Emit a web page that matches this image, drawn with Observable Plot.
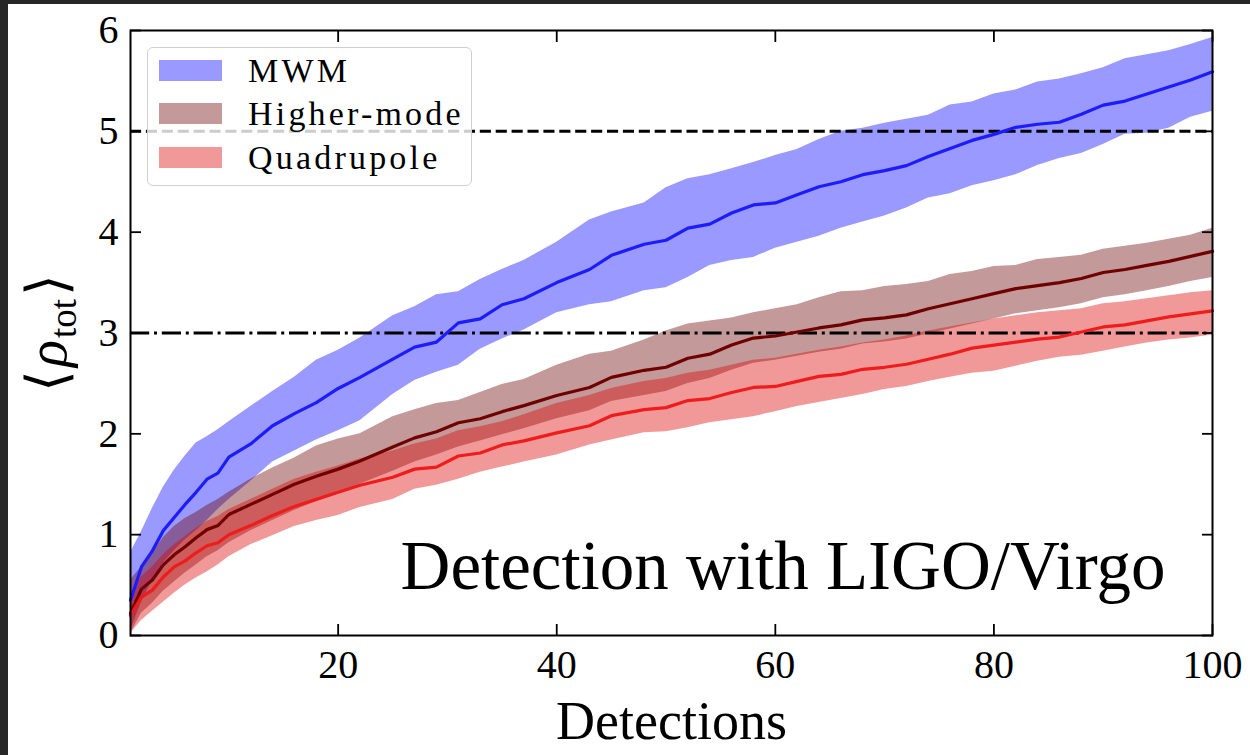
<!DOCTYPE html>
<html>
<head>
<meta charset="utf-8">
<script src="https://cdn.jsdelivr.net/npm/d3@7"></script>
<script src="https://cdn.jsdelivr.net/npm/@observablehq/plot@0.6"></script>
<style>
  html, body { margin: 0; padding: 0; background: #272727; }
  #page { position: absolute; left: 8px; top: 4px; width: 1242px; height: 751px; background: #fff; overflow: hidden; }
  #chart { position: absolute; left: 0; top: 0; }
  #legend { position: absolute; left: 139px; top: 43px; width: 323px; height: 137px;
            background: rgba(255,255,255,0.8); border: 1.5px solid #cfcfcf; border-radius: 6px; }
  .sw { position: absolute; left: 11px; width: 63px; height: 21px; }
  .lab { position: absolute; left: 100px; font-family: "Liberation Serif", serif; font-size: 34px;
         letter-spacing: 3.2px; line-height: 34px; color: #000; white-space: nowrap; }
</style>
</head>
<body>
<div id="page">
  <div id="chart"></div>
  <div id="legend"></div>
</div>
<script>
// Number of detections at which the mean SNR and its band were evaluated
const detections = [1,2,3,4,5,6,7,8,9,10,12,14,16,18,20,22,25,27,29,31,33,35,37,40,43,45,48,50,
  52,54,56,58,60,62,64,66,68,70,72,74,76,78,80,82,84,86,88,90,92,94,96,98,100];

// Memory (MWM)
const mwmMean = [0.35,0.68,0.84,1.04,1.17,1.30,1.42,1.55,1.61,1.77,1.90,2.08,2.20,2.31,2.45,2.56,
  2.74,2.86,2.91,3.10,3.14,3.28,3.34,3.50,3.63,3.77,3.88,3.92,
  4.04,4.08,4.19,4.27,4.29,4.37,4.45,4.50,4.57,4.61,4.66,4.75,4.83,4.91,4.97,5.04,5.07,5.09,5.17,5.26,5.30,5.37,5.44,5.51,5.59];
const mwmHigh = [0.82,1.03,1.26,1.47,1.64,1.78,1.91,1.97,2.04,2.12,2.27,2.42,2.56,2.73,2.83,2.95,
  3.17,3.26,3.38,3.41,3.53,3.63,3.72,3.90,4.12,4.20,4.29,4.44,
  4.53,4.57,4.63,4.69,4.76,4.82,4.92,5.00,5.03,5.08,5.12,5.16,5.26,5.29,5.37,5.41,5.49,5.52,5.57,5.63,5.72,5.76,5.80,5.86,5.93];
const mwmLow = [0.05,0.33,0.55,0.72,0.84,0.95,1.04,1.14,1.25,1.35,1.53,1.72,1.83,1.94,2.03,2.13,
  2.39,2.53,2.61,2.68,2.84,2.94,3.03,3.20,3.28,3.31,3.42,3.45,
  3.55,3.67,3.72,3.75,3.84,3.90,3.96,4.04,4.10,4.16,4.24,4.34,4.38,4.46,4.51,4.57,4.66,4.73,4.78,4.87,4.97,4.98,5.03,5.14,5.20];

// Higher-mode
const hmMean = [0.22,0.46,0.55,0.70,0.80,0.88,0.97,1.05,1.09,1.20,1.30,1.40,1.50,1.58,1.65,1.73,
  1.87,1.96,2.02,2.11,2.15,2.22,2.28,2.38,2.46,2.56,2.63,2.66,
  2.75,2.79,2.88,2.95,2.97,3.01,3.05,3.08,3.13,3.15,3.18,3.24,3.29,3.34,3.39,3.44,3.47,3.50,3.54,3.60,3.63,3.67,3.71,3.76,3.81];
const hmHigh = [0.55,0.68,0.82,0.97,1.08,1.16,1.22,1.29,1.35,1.42,1.55,1.66,1.76,1.88,1.95,2.00,
  2.17,2.24,2.30,2.33,2.41,2.49,2.54,2.68,2.79,2.82,2.93,3.02,
  3.09,3.12,3.15,3.20,3.24,3.28,3.35,3.41,3.42,3.46,3.48,3.51,3.58,3.61,3.66,3.67,3.73,3.75,3.77,3.83,3.86,3.89,3.93,3.97,4.04];
const hmLow = [0.02,0.22,0.32,0.44,0.53,0.62,0.70,0.78,0.84,0.92,1.04,1.14,1.24,1.33,1.41,1.50,
  1.63,1.72,1.79,1.87,1.93,1.99,2.05,2.15,2.23,2.32,2.38,2.42,
  2.50,2.55,2.63,2.70,2.73,2.77,2.81,2.84,2.89,2.91,2.94,2.99,3.04,3.09,3.14,3.19,3.22,3.25,3.29,3.35,3.38,3.42,3.46,3.51,3.55];

// Quadrupole
const quadMean = [0.20,0.38,0.45,0.58,0.68,0.74,0.82,0.89,0.92,1.00,1.09,1.19,1.28,1.35,1.42,1.49,
  1.57,1.65,1.67,1.78,1.81,1.89,1.93,2.01,2.08,2.18,2.24,2.26,
  2.33,2.35,2.41,2.46,2.47,2.52,2.57,2.59,2.64,2.66,2.69,2.74,2.79,2.85,2.88,2.91,2.94,2.96,3.01,3.06,3.08,3.12,3.16,3.19,3.22];
const quadHigh = [0.42,0.58,0.68,0.80,0.90,0.98,1.06,1.13,1.18,1.25,1.35,1.45,1.55,1.62,1.68,1.75,
  1.83,1.90,1.95,2.03,2.07,2.12,2.19,2.30,2.38,2.45,2.52,2.55,
  2.60,2.63,2.68,2.73,2.75,2.79,2.83,2.86,2.90,2.93,2.97,3.02,3.06,3.10,3.14,3.17,3.20,3.22,3.24,3.29,3.31,3.34,3.37,3.40,3.42];
const quadLow = [0.02,0.15,0.24,0.33,0.42,0.50,0.57,0.63,0.70,0.78,0.90,0.99,1.08,1.14,1.19,1.27,
  1.35,1.45,1.49,1.55,1.62,1.67,1.72,1.79,1.89,1.94,2.01,2.02,
  2.06,2.11,2.14,2.17,2.22,2.27,2.31,2.35,2.39,2.44,2.47,2.52,2.56,2.60,2.62,2.67,2.72,2.76,2.78,2.82,2.86,2.90,2.93,2.95,2.98];

const seriesNames = ["MWM", "Higher-mode", "Quadrupole"];
const bandColors = ["#0000ff", "#690000", "#dc0000"];
const lineColors = ["#1c1cff", "#700000", "#f01c1c"];
const xTicks = [20, 40, 60, 80, 100];
const yTicks = [0, 1, 2, 3, 4, 5, 6];
const dashedLevel = 5;     // dashed threshold
const dashDotLevel = 3;    // dash-dot threshold
const annotation = "Detection with LIGO/Virgo";
const xLabel = "Detections";

const table = (name, mean, lo, hi) =>
  detections.map((d, i) => ({series: name, d, mean: mean[i], lo: lo[i], hi: hi[i]}));
const groups = [
  table(seriesNames[0], mwmMean, mwmLow, mwmHigh),
  table(seriesNames[1], hmMean, hmLow, hmHigh),
  table(seriesNames[2], quadMean, quadLow, quadHigh)
];

const serif = "Liberation Serif, Times New Roman, serif";
const intFormat = d3.format("d");

const chart = Plot.plot({
  width: 1242,
  height: 751,
  marginLeft: 122,
  marginRight: 38,
  marginTop: 26,
  marginBottom: 120,
  style: {fontFamily: serif, fontSize: "40px", color: "#000", background: "transparent", overflow: "visible"},
  x: {domain: [1, 100]},
  y: {domain: [0, 6]},
  marks: [
    ...groups.map((g, i) => Plot.areaY(g, {x: "d", y1: "lo", y2: "hi", fill: bandColors[i], fillOpacity: 0.4})),
    Plot.ruleY([dashedLevel], {stroke: "#000", strokeWidth: 3, strokeDasharray: "11.1,4.8"}),
    Plot.ruleY([dashDotLevel], {stroke: "#000", strokeWidth: 3, strokeDasharray: "19.2,4.8,3,4.8"}),
    ...groups.map((g, i) => Plot.lineY(g, {x: "d", y: "mean", stroke: lineColors[i], strokeWidth: 3.2})),
    Plot.frame({stroke: "#000", strokeWidth: 2}),
    Plot.axisX({anchor: "bottom", ticks: xTicks, tickSize: -11, tickPadding: 25, strokeWidth: 1.8, fontSize: 40,
      tickFormat: intFormat, label: null}),
    Plot.axisX({anchor: "top", ticks: xTicks, tickSize: -11, strokeWidth: 1.8, tickFormat: () => "", label: null}),
    Plot.axisY({anchor: "left", ticks: yTicks, tickSize: -11, tickPadding: 23, strokeWidth: 1.8, fontSize: 40,
      tickFormat: intFormat, label: null}),
    Plot.axisY({anchor: "right", ticks: yTicks, tickSize: -11, strokeWidth: 1.8, tickFormat: () => "", label: null}),
    Plot.text([annotation], {text: d => d, frameAnchor: "bottom-right", textAnchor: "end", lineAnchor: "bottom",
      dx: -47, dy: -47, fontSize: 69, fontFamily: serif}),
    Plot.text([xLabel], {text: d => d, frameAnchor: "bottom", lineAnchor: "bottom", dy: 103, fontSize: 54, fontFamily: serif})
  ]
});
document.getElementById("chart").appendChild(chart);

// y-axis label with subscript: <rho_tot>
const ylab = d3.select(chart).append("text")
  .attr("transform", "translate(58,329) rotate(-90)")
  .attr("text-anchor", "middle")
  .attr("font-family", serif)
  .attr("font-size", 56)
  .attr("fill", "#000");
ylab.append("tspan").text("\u27E8");
ylab.append("tspan").attr("font-style", "italic").attr("dx", 3).text("\u03C1");
ylab.append("tspan").attr("font-size", 37).attr("dy", 10).attr("dx", 2).text("tot");
ylab.append("tspan").attr("dy", -10).attr("dx", 3).text("\u27E9");

// legend
const legend = d3.select("#legend");
const tops = [12, 55, 99];
seriesNames.forEach((name, i) => {
  legend.append("div").attr("class", "sw")
    .style("top", tops[i] + "px")
    .style("background", d3.color(bandColors[i]).copy({opacity: 0.4}).formatRgb());
  legend.append("div").attr("class", "lab")
    .style("top", (tops[i] - 6) + "px")
    .text(name);
});
</script>
</body>
</html>
